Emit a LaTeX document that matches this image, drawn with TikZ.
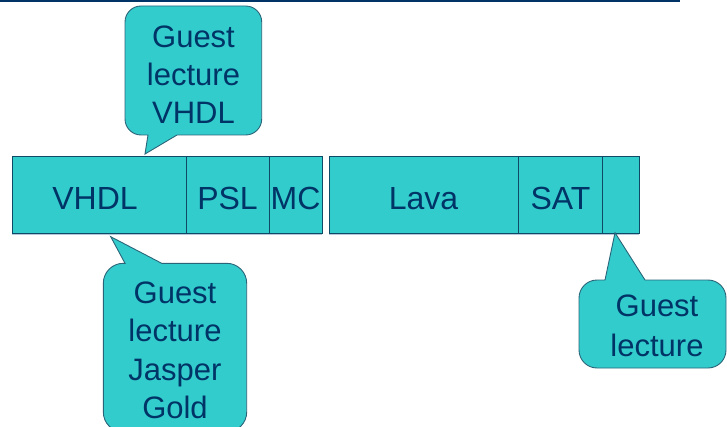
\documentclass[tikz,border=0pt]{standalone}
\usepackage{fontspec}
\setmainfont{Liberation Sans}
\definecolor{fillc}{HTML}{33CCCC}
\definecolor{textc}{HTML}{003366}
\definecolor{linec}{HTML}{0E4A66}
\definecolor{callline}{HTML}{2A6478}
\definecolor{shadowc}{HTML}{B4C6D8}
\begin{document}
\begin{tikzpicture}[x=1pt,y=1pt,
  seg/.style={draw=linec,line width=0.8pt,fill=fillc},
  segtext/.style={text=textc,font=\fontsize{32}{38}\selectfont,anchor=base,inner sep=0pt},
  callbody/.style={draw=callline,line width=0.9pt,fill=fillc},
  calltext/.style={text=textc,align=center,inner sep=0pt,anchor=center}]
\useasboundingbox (0,0) rectangle (727,426);
\clip (0,0) rectangle (727,426);
% top rule
\fill[textc] (0,423.6) rectangle (680,426);
% shadows
\fill[shadowc] (11.7,191) rectangle (322.3,193);
\fill[shadowc] (329,191) rectangle (639.3,193);
% segments
\node[seg,minimum width=174.3pt,minimum height=76pt,inner sep=0pt,anchor=south west] (bvhdl) at (11.7,192.7) {};
\node[seg,minimum width=83pt,minimum height=76pt,inner sep=0pt,anchor=south west] (bpsl) at (186,192.7) {};
\node[seg,minimum width=53.3pt,minimum height=76pt,inner sep=0pt,anchor=south west] (bmc) at (269,192.7) {};
\node[seg,minimum width=189.3pt,minimum height=76pt,inner sep=0pt,anchor=south west] (blava) at (329,192.7) {};
\node[seg,minimum width=83.4pt,minimum height=76pt,inner sep=0pt,anchor=south west] (bsat) at (518.3,192.7) {};
\node[seg,minimum width=37.6pt,minimum height=76pt,inner sep=0pt,anchor=south west] (bend) at (601.7,192.7) {};
\node[segtext] (tvhdl) at (95,216.7) {VHDL};
\node[segtext] (tpsl) at (227.5,216.7) {PSL};
\node[segtext] (tmc) at (295.5,216.7) {MC};
\node[segtext] (tlava) at (423.5,216.7) {Lava};
\node[segtext] (tsat) at (560.5,216.7) {SAT};
% callout 1 (top)
\path[callbody] (145,272) -- (177,291) -- (245.7,291) arc(270:360:16) -- (261.7,404) arc(0:90:16) -- (141,420) arc(90:180:16) -- (125,307) arc(180:270:16) -- (148,291) -- cycle;
\node[calltext,font=\fontsize{31}{38}\selectfont] (c1) at (193.5,351.2) {Guest\\lecture\\VHDL};
% callout 2 (bottom left)
\path[callbody] (110.7,189.3) -- (125,162.7) -- (123.3,162.7) arc(90:180:20) -- (103.3,14) arc(180:270:20) -- (226.7,-6) arc(270:360:20) -- (246.7,142.7) arc(0:90:20) -- (161.7,162.7) -- cycle;
\node[calltext,font=\fontsize{31}{38.5}\selectfont] (c2) at (175,75.5) {Guest\\lecture\\Jasper\\Gold};
% callout 3 (right)
\path[callbody] (615,193.3) -- (645,146) -- (708,146) arc(90:0:18) -- (726,76) arc(360:270:18) -- (597,58) arc(270:180:18) -- (579,128) arc(180:90:18) -- (605,146) -- cycle;
\node[calltext,font=\fontsize{31}{40}\selectfont] (c3) at (657,100.3) {Guest\\lecture};
\end{tikzpicture}
\end{document}
